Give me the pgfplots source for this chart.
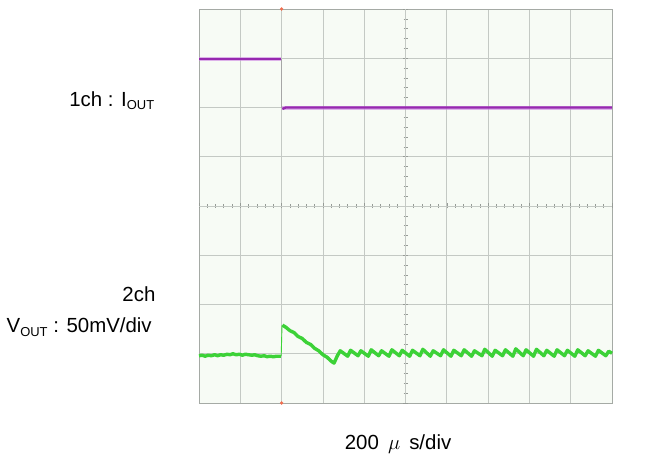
\documentclass[border=0pt]{standalone}
\usepackage{pgfplots}
\pgfplotsset{compat=1.18}
\usepackage{fontspec}
\setmainfont{Liberation Sans}
\definecolor{gridc}{RGB}{196,201,196}
\definecolor{borderc}{RGB}{165,170,165}
\definecolor{bgc}{RGB}{247,251,245}
\definecolor{tickc}{RGB}{150,155,150}
\definecolor{purp}{RGB}{150,40,175}
\definecolor{purphalo}{RGB}{205,130,225}
\definecolor{grn}{RGB}{60,210,55}
\definecolor{redc}{RGB}{240,110,80}
\newcommand{\sub}[1]{\raisebox{-0.28ex}{\fontsize{13}{13}\selectfont #1}}
\begin{document}
\begin{tikzpicture}
\path[use as bounding box] (0,0) rectangle (666bp,456bp);
\begin{axis}[
  at={(199bp,53bp)}, anchor=south west, scale only axis,
  width=413bp, height=394bp,
  xmin=0, xmax=10, ymin=0, ymax=8,
  xtick={0,1,...,10}, ytick={0,1,...,8},
  xticklabels={}, yticklabels={},
  major tick length=0pt,
  grid=major, grid style={line width=0.8bp, color=gridc},
  axis line style={line width=0.9bp, color=borderc},
  axis background/.style={fill=bgc},
  clip=false,
]
\end{axis}
\begin{axis}[
  at={(199bp,53bp)}, anchor=south west, scale only axis,
  width=413bp, height=394bp,
  xmin=-5, xmax=5, ymin=-4, ymax=4,
  axis lines=center,
  axis line style={-, color=gridc, line width=0.8bp},
  every inner x axis line/.append style={-},
  every inner y axis line/.append style={-},
  xtick={-5,-4,...,5}, ytick={-4,-3,...,4},
  minor tick num=4,
  xticklabels={}, yticklabels={},
  tick align=center,
  major tick length=5bp, minor tick length=4bp,
  every tick/.style={color=tickc, line width=0.6bp},
  clip=false,
]
\end{axis}
\begin{axis}[
  at={(199bp,53bp)}, anchor=south west, scale only axis,
  width=413bp, height=394bp,
  xmin=0, xmax=10, ymin=0, ymax=8,
  hide axis, clip=false,
]
% Channel 1 : I_OUT (purple)
\addplot[purphalo, line width=4bp, opacity=0.6] coordinates {(0,6.98) (1.98,6.98)};
\addplot[purphalo, line width=4bp, opacity=0.6] coordinates {(2.02,6.0) (10,6.0)};
\addplot[gray!70, line width=0.8bp] coordinates {(2,6.98) (2,6.0)};
\addplot[purp, line width=2.3bp] coordinates {(0,6.98) (1.98,6.98)};
\addplot[purp, line width=2.3bp] coordinates {(2.02,5.97) (2.1,6.0) (10,6.0)};
% Channel 2 : V_OUT (green)
\addplot[grn, line width=0.9bp] coordinates {(1.99,0.95) (2.01,1.58)};
\addplot[grn, line width=3.4bp, line join=round] coordinates {
(0,0.96) (0.08,0.97) (0.15,0.95) (0.22,0.97) (0.3,0.96) (0.38,0.98) (0.45,0.96)
(0.52,0.98) (0.6,0.97) (0.68,0.99) (0.75,0.98) (0.82,1.0) (0.9,0.98) (0.98,0.99)
(1.05,0.97) (1.12,0.99) (1.2,0.98) (1.28,0.97) (1.35,0.98) (1.42,0.96) (1.5,0.95)
(1.58,0.96) (1.65,0.94) (1.72,0.95) (1.8,0.94) (1.88,0.95) (1.98,0.95)};
\addplot[grn, line width=3.4bp, line join=round] coordinates {
(2.02,1.58) (2.1,1.54) (2.2,1.47) (2.3,1.43) (2.4,1.35) (2.5,1.31) (2.6,1.23)
(2.7,1.19) (2.8,1.11) (2.9,1.06) (3.0,0.98) (3.1,0.93) (3.2,0.85) (3.27,0.81)
(3.35,0.96) (3.42,1.06)
(3.60,0.95) (3.67,1.07) (3.85,0.96) (3.92,1.06) (4.10,0.95) (4.17,1.08)
(4.35,0.96) (4.42,1.06) (4.60,0.95) (4.67,1.08) (4.85,0.96) (4.92,1.07)
(5.10,0.95) (5.17,1.07) (5.35,0.96) (5.42,1.09) (5.60,0.95) (5.67,1.06)
(5.85,0.96) (5.92,1.08) (6.10,0.95) (6.17,1.07) (6.35,0.96) (6.42,1.08)
(6.60,0.95) (6.67,1.06) (6.85,0.96) (6.92,1.09) (7.10,0.95) (7.17,1.07)
(7.35,0.96) (7.42,1.08) (7.60,0.95) (7.67,1.10) (7.85,0.96) (7.92,1.08)
(8.10,0.95) (8.17,1.09) (8.35,0.96) (8.42,1.07) (8.60,0.95) (8.67,1.08)
(8.85,0.96) (8.92,1.07) (9.10,0.95) (9.17,1.08) (9.35,0.96) (9.42,1.06)
(9.60,0.95) (9.67,1.07) (9.85,0.96) (9.92,1.05) (10,1.01)};
% trigger markers
\addplot[only marks, mark=*, mark size=1.5bp, color=redc] coordinates {(2,8) (2,0)};
% labels
\node[anchor=east, font=\fontsize{20.5}{24}\selectfont] at (axis cs:-1.0,6.13) {1ch : I\sub{OUT}};
\node[anchor=east, font=\fontsize{20.5}{24}\selectfont] at (axis cs:-0.97,2.21) {2ch};
\node[anchor=east, font=\fontsize{20.5}{24}\selectfont] at (axis cs:-1.06,1.54) {V\sub{OUT} : 50mV/div};
\node[font=\fontsize{20.5}{24}\selectfont] at (axis cs:4.82,-0.84) {200 \,$\mu$\, s/div};
\end{axis}
\end{tikzpicture}
\end{document}
